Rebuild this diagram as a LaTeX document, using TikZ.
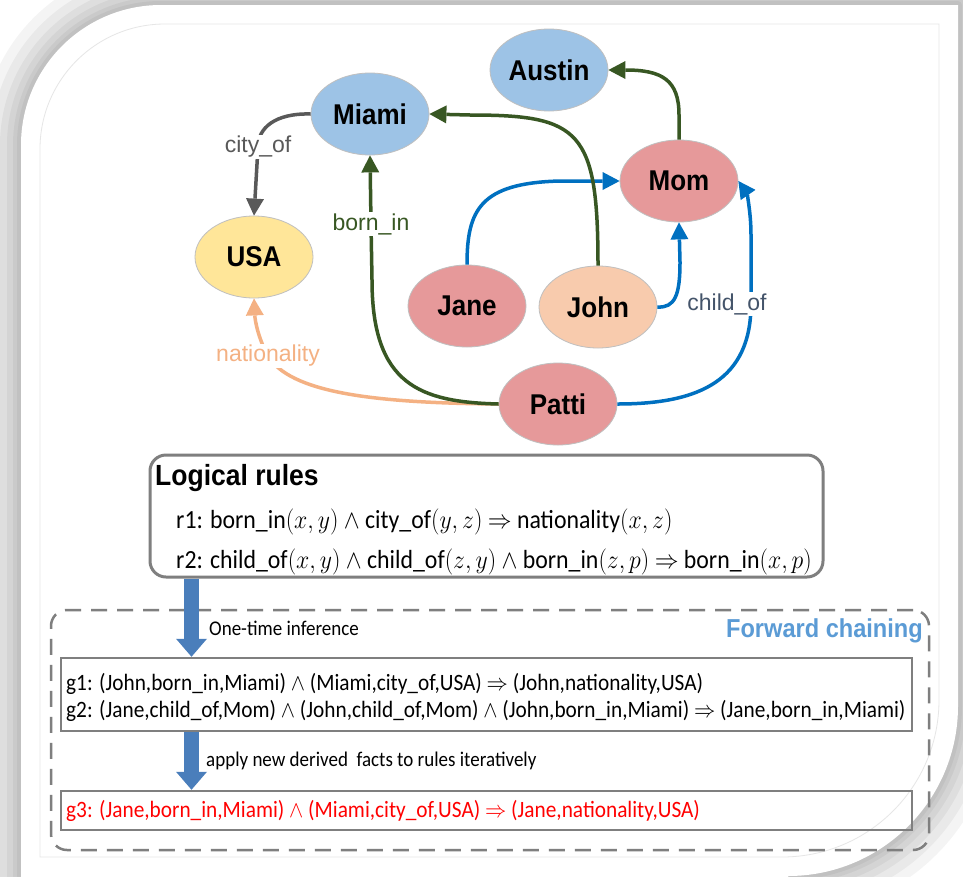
\RequirePackage{fix-cm}
\documentclass[tikz,border=0pt]{standalone}
\usepackage{fontspec}
\setmainfont{Carlito}
\newfontfamily\arialfont{Liberation Sans}
\usetikzlibrary{shapes.geometric,arrows.meta,calc}

\definecolor{nodeblue}{HTML}{9DC3E6}
\definecolor{nodeyellow}{HTML}{FFE699}
\definecolor{nodepink}{HTML}{E6999A}
\definecolor{nodepeach}{HTML}{F8CBAD}
\definecolor{edgegreen}{HTML}{385723}
\definecolor{edgeblue}{HTML}{0070C0}
\definecolor{edgegray}{HTML}{595959}
\definecolor{edgepeach}{HTML}{F4B183}
\definecolor{labelslate}{HTML}{44546A}
\definecolor{boxgray}{HTML}{7F7F7F}
\definecolor{chainblue}{HTML}{5B9BD5}
\definecolor{blockblue}{HTML}{4A7EBB}
\definecolor{derivedred}{HTML}{FF0000}
\definecolor{innerline}{HTML}{E6E6E6}

% slightly taller lettering
\newcommand{\tallish}[1]{\scalebox{1}[1.1]{#1}}

\tikzset{
  entity/.style={ellipse, draw=black!25, line width=0.8pt,
    minimum width=118pt, minimum height=82pt, inner sep=0pt,
    font=\arialfont\bfseries\fontsize{26}{30}\selectfont},
  rel/.style={line width=3.5pt, line cap=butt,
    -{Triangle[length=17pt,width=18pt,line width=0pt]}},
  lbl/.style={fill=white, inner sep=1.5pt,
    font=\arialfont\fontsize{23}{27}\selectfont},
  ruletext/.style={anchor=base west, inner sep=0pt,
    font=\fontsize{23.8}{28}\selectfont},
  gtext/.style={anchor=base west, inner sep=0pt,
    font=\fontsize{21.3}{25}\selectfont},
  steptext/.style={anchor=base west, inner sep=0pt,
    font=\fontsize{19}{22}\selectfont},
  factbox/.style={draw=boxgray, line width=2.5pt,
    minimum width=851pt, inner sep=0pt},
  flow/.style={blockblue, line width=15pt,
    -{Triangle[length=18pt,width=31pt,line width=0pt]}},
}

\begin{document}
\begin{tikzpicture}[x=1pt,y=-1pt]
\useasboundingbox (0,0) rectangle (963,876);
\fill[white] (0,0) rectangle (963,876);

% card outline with its soft shadow
\def\cardoutline{(21,880) -- (21,145) .. controls (21,67.7) and (83.7,5) .. (161,5)
  -- (958,5) -- (958,706) .. controls (958,799.9) and (881.9,876) .. (788,876)
  -- (788,880) -- cycle}
\foreach \w in {80,60,42,28,16,8}
  \draw[black, opacity=0.045, line width=\w pt, line join=round] \cardoutline;
\fill[white] \cardoutline;
\draw[innerline, line width=0.8pt] (40,857) -- (40,149) .. controls (40,80) and (96,24) .. (165,24)
  -- (939,24) -- (939,700) .. controls (939,786.7) and (868.7,857) .. (782,857) -- cycle;

% knowledge graph entities
\node[entity, fill=nodeblue]   (miami)  at (370,114) {\tallish{Miami}};
\node[entity, fill=nodeblue]   (austin) at (549,70)  {\tallish{Austin}};
\node[entity, fill=nodeyellow] (usa)    at (254,257) {\tallish{USA}};
\node[entity, fill=nodepink]   (jane)   at (467,306) {\tallish{Jane}};
\node[entity, fill=nodepeach]  (john)   at (598,307) {\tallish{John}};
\node[entity, fill=nodepink]   (mom)    at (679,181) {\tallish{Mom}};
\node[entity, fill=nodepink]   (patti)  at (558,404) {\tallish{Patti}};

% relations
\draw[rel, edgeblue] (jane.north) .. controls (467,210) and (480,183) .. (560,181) -- (mom.west);
\draw[rel, edgeblue] (john.east) .. controls (675,308) and (680,295) .. (680,262) -- (mom.south);
\draw[rel, edgeblue] (patti.east) .. controls (700,404) and (751,380) .. (751,304)
  node[lbl, text=labelslate, xshift=-24pt] {child\_of}
  -- (751,235) .. controls (751,210) and (746,192) .. (mom.east);
\draw[rel, edgegray] (miami.west) .. controls (275,113) and (258,128) .. (258,147)
  node[lbl] {city\_of} -- (usa.north);
\draw[rel, edgepeach] (patti.west) .. controls (370,403) and (290,392) .. (268,356)
  node[lbl] {nationality} .. controls (258,338) and (255,320) .. (usa.south);
\draw[rel, edgegreen] (patti.west) .. controls (420,402) and (372,385) .. (372,280)
  -- (371,224) node[lbl] {born\_in} -- (miami.south);
\draw[rel, edgegreen] (john.north) .. controls (598,130) and (580,115) .. (470,115) -- (miami.east);
\draw[rel, edgegreen] (mom.north) -- (679,115) .. controls (679,80) and (662,70) .. (austin.east);

% logical rules
\node[draw=boxgray, line width=3pt, rounded corners=16pt,
  minimum width=673pt, minimum height=122pt] (rules) at (486.5,516) {};
\node[anchor=base west, inner sep=0pt, font=\arialfont\bfseries\fontsize{26.5}{30}\selectfont]
  (rulestitle) at (155,485) {\tallish{Logical rules}};
\node[ruletext] (r1) at (176,528)
  {\tallish{r1: born\_in$(x,y)$ $\wedge$ city\_of$(y,z)$ $\Rightarrow$ nationality$(x,z)$}};
\node[ruletext] (r2) at (176,568)
  {\tallish{r2: child\_of$(x,y)$ $\wedge$ child\_of$(z,y)$ $\wedge$ born\_in$(z,p)$ $\Rightarrow$ born\_in$(x,p)$}};

% forward chaining
\node[draw=boxgray, line width=2.5pt, dash pattern=on 16pt off 10pt, rounded corners=16pt,
  minimum width=878pt, minimum height=240pt] (chain) at (490,730) {};
\node[anchor=base east, inner sep=0pt, text=chainblue,
  font=\arialfont\bfseries\fontsize{23.6}{27}\selectfont] (chaintitle) at (923,637) {\tallish{Forward chaining}};

\node[factbox, minimum height=73pt] (gbox) at (486.5,694.5) {};
\node[gtext] (g1) at (66,690)
  {\tallish{g1: (John,born\_in,Miami) $\wedge$ (Miami,city\_of,USA) $\Rightarrow$ (John,nationality,USA)}};
\node[gtext] (g2) at (66,717)
  {\tallish{g2: (Jane,child\_of,Mom) $\wedge$ (John,child\_of,Mom) $\wedge$ (John,born\_in,Miami) $\Rightarrow$ (Jane,born\_in,Miami)}};

\node[factbox, minimum height=39pt] (g3box) at (486.5,810.5) {};
\node[gtext, text=derivedred] (g3) at (66,817)
  {\tallish{g3: (Jane,born\_in,Miami) $\wedge$ (Miami,city\_of,USA) $\Rightarrow$ (Jane,nationality,USA)}};

\coordinate (ax) at (191.5,0);
\draw[flow] (ax |- rules.south) -- (ax |- gbox.north);
\draw[flow] (ax |- gbox.south) -- (ax |- g3box.north);
\node[steptext] (step1) at (209,635) {\tallish{One-time inference}};
\node[steptext] (step2) at (206,766) {\tallish{apply new derived~ facts to rules iteratively}};
\end{tikzpicture}
\end{document}
